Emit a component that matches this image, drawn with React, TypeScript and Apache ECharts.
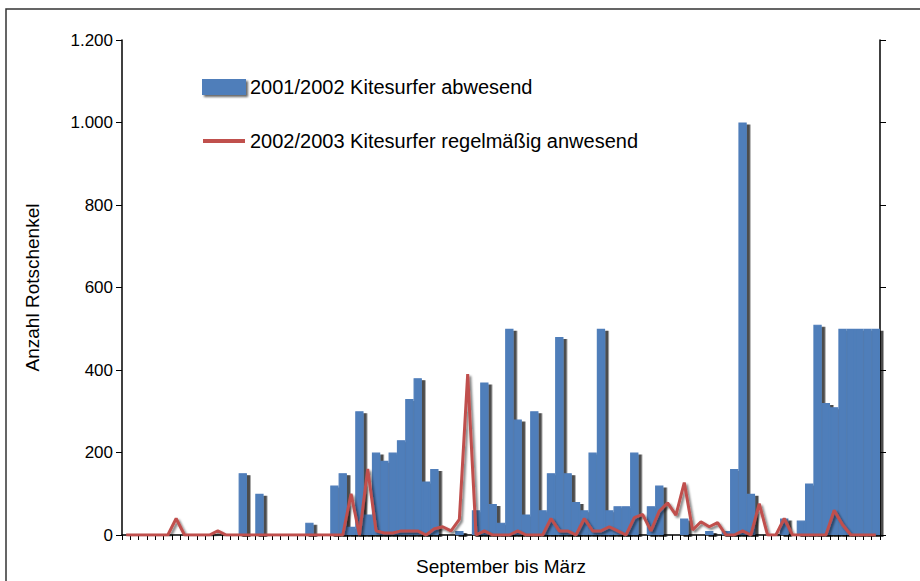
import React, { useEffect, useRef } from 'react';
import * as echarts from 'echarts';

const categories: string[] = Array.from({ length: 91 }, (_, i) => String(i + 1));

const seriesBarName = '2001/2002 Kitesurfer abwesend';
const seriesLineName = '2002/2003 Kitesurfer regelmäßig anwesend';
const xAxisTitle = 'September bis März';
const yAxisTitle = 'Anzahl Rotschenkel';

const bars2001: number[] = [
  0, 0, 0, 0, 0, 0, 0, 0, 0, 0,
  0, 0, 0, 0, 150, 0, 100, 0, 0, 0,
  0, 0, 30, 0, 0, 120, 150, 20, 300, 50,
  200, 180, 200, 230, 330, 380, 130, 160, 0, 0,
  10, 0, 60, 370, 75, 30, 500, 280, 50, 300,
  60, 150, 480, 150, 80, 60, 200, 500, 60, 70,
  70, 200, 0, 70, 120, 0, 0, 40, 0, 0,
  10, 0, 10, 160, 1000, 100, 0, 0, 0, 40,
  0, 35, 125, 510, 320, 310, 500, 500, 500, 500,
  500,
];

const line2002: number[] = [
  0, 0, 0, 0, 0, 0, 40, 0, 0, 0,
  0, 10, 0, 0, 0, 0, 0, 0, 0, 0,
  0, 0, 0, 0, 0, 0, 0, 100, 0, 160,
  10, 5, 5, 10, 10, 10, 0, 15, 20, 10,
  38, 390, 0, 10, 0, 0, 0, 10, 0, 0,
  0, 40, 10, 10, 0, 40, 10, 10, 20, 10,
  0, 42, 50, 10, 58, 78, 48, 127, 12, 32,
  20, 30, 0, 0, 10, 0, 76, 0, 0, 40,
  0, 0, 0, 0, 0, 60, 25, 0, 0, 0,
  0,
];

const yMin = 0;
const yMax = 1200;
const yStep = 200;

const FONT = '"Liberation Sans", Arial, Helvetica, sans-serif';

const fmt = (v: number) => String(v).replace(/\B(?=(\d{3})+(?!\d))/g, '.');

const BLUE = '#4F7EBA';
const RED = '#C0504D';

export default function App() {
  const ref = useRef<HTMLDivElement>(null);
  useEffect(() => {
    if (!ref.current) return;
    const chart = echarts.init(ref.current, null, { renderer: 'svg' });
    chart.setOption({
      animation: false,
      backgroundColor: '#ffffff',
      graphic: [
        {
          type: 'rect',
          silent: true,
          z: -10,
          shape: { x: 6, y: 9, width: 1000, height: 1000 },
          style: { fill: 'none', stroke: '#333333', lineWidth: 1.5 },
        },
      ],
      grid: { left: 122, right: 40, top: 40, bottom: 45, show: false },
      legend: {
        orient: 'vertical',
        left: 197,
        top: 72,
        itemWidth: 42,
        itemHeight: 14,
        itemGap: 34,
        textStyle: { fontSize: 20, color: '#000', fontFamily: FONT },
        data: [
          {
            name: seriesBarName,
            icon: 'rect',
            itemStyle: {
              color: BLUE,
              shadowColor: 'rgba(0,0,0,0.6)',
              shadowBlur: 2,
              shadowOffsetX: 2,
              shadowOffsetY: 2,
            },
          },
          {
            name: seriesLineName,
            icon: 'path://M0,0 L42,0 L42,4 L0,4 Z',
            itemStyle: { color: RED },
          },
        ],
      },
      xAxis: [
        {
          type: 'category',
          data: categories,
          boundaryGap: true,
          axisLine: { lineStyle: { color: '#000', width: 1.5 } },
          axisTick: { show: true, interval: 0, length: 5, lineStyle: { color: '#000', width: 1 } },
          axisLabel: { show: false },
          name: xAxisTitle,
          nameLocation: 'middle',
          nameGap: 22,
          nameTextStyle: { fontSize: 19, color: '#000', fontFamily: FONT },
        },
        {
          type: 'category',
          position: 'top',
          data: categories,
          boundaryGap: true,
          axisLine: {
            lineStyle: {
              color: '#777',
              width: 2,
              shadowColor: 'rgba(0,0,0,0.4)',
              shadowBlur: 2,
              shadowOffsetY: 1,
            },
          },
          axisTick: { show: false },
          axisLabel: { show: false },
        },
      ],
      yAxis: [
        {
          type: 'value',
          min: yMin,
          max: yMax,
          interval: yStep,
          position: 'left',
          axisLine: { show: true, lineStyle: { color: '#000', width: 1.5 } },
          axisTick: { show: true, length: 6, lineStyle: { color: '#000' } },
          splitLine: { show: false },
          axisLabel: {
            margin: 9,
            fontSize: 17,
            color: '#000',
            fontFamily: FONT,
            formatter: (v: number) => fmt(v),
          },
          name: yAxisTitle,
          nameLocation: 'middle',
          nameGap: 80,
          nameTextStyle: { fontSize: 19, color: '#000', fontFamily: FONT },
        },
        {
          type: 'value',
          min: yMin,
          max: yMax,
          interval: yStep,
          position: 'right',
          axisLine: { show: true, lineStyle: { color: '#000', width: 1.5 } },
          axisTick: { show: true, length: 6, lineStyle: { color: '#000' } },
          splitLine: { show: false },
          axisLabel: { show: false },
        },
      ],
      series: [
        {
          type: 'bar',
          name: seriesBarName,
          data: bars2001,
          barCategoryGap: '0%',
          barGap: '0%',
          itemStyle: {
            color: BLUE,
            borderColor: BLUE,
            borderWidth: 1.2,
            shadowColor: 'rgba(0,0,0,0.7)',
            shadowBlur: 1.5,
            shadowOffsetX: 3.5,
            shadowOffsetY: 2,
          },
        },
        {
          type: 'line',
          name: seriesLineName,
          data: line2002,
          symbol: 'none',
          showSymbol: false,
          z: 5,
          itemStyle: { color: RED },
          lineStyle: {
            color: RED,
            width: 3,
            shadowColor: 'rgba(0,0,0,0.5)',
            shadowBlur: 2,
            shadowOffsetX: 2,
            shadowOffsetY: 2,
          },
        },
      ],
    });
    return () => chart.dispose();
  }, []);
  return (
    <div
      ref={ref}
      style={{ position: 'fixed', left: 0, top: 0, width: 920, height: 581, background: '#fff' }}
    />
  );
}
